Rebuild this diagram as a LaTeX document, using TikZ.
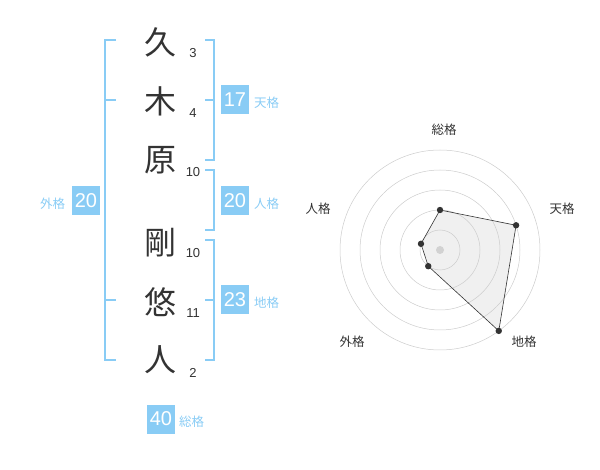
\documentclass[tikz,border=0pt]{standalone}
\usepackage{fontspec}
\setmainfont{Liberation Sans}
\newfontfamily\jp{Noto Sans CJK JP}
\usetikzlibrary{positioning}
\definecolor{kakublue}{RGB}{137,204,245}
\definecolor{ink}{RGB}{51,51,51}

\begin{document}
\begin{tikzpicture}[x=1pt,y=-1pt,
    kanji/.style={font=\jp\fontsize{32}{32}\selectfont, text=ink, inner sep=0pt},
    strokes/.style={font=\fontsize{13}{13}\selectfont, text=ink, inner sep=0pt},
    bracket/.style={draw=kakublue, line width=2pt},
    score/.style={fill=kakublue, text=white, font=\fontsize{20}{20}\selectfont,
        minimum width=28pt, minimum height=29pt, inner sep=0pt},
    kaku/.style={font=\jp\fontsize{12.5}{12.5}\selectfont, text=kakublue, inner sep=0pt, anchor=west},
    ring/.style={draw=gray!40, line width=0.5pt},
    axislabel/.style={font=\jp\fontsize{12.5}{12.5}\selectfont, text=ink, inner sep=0pt}]
    \useasboundingbox (0,0) rectangle (600,470);

    % name
    \node[kanji] (k1) at (160,42) {久};
    \node[kanji] (k2) at (160,101) {木};
    \node[kanji] (k3) at (160,160) {原};
    \node[kanji] (k4) at (160,243) {剛};
    \node[kanji] (k5) at (160,302) {悠};
    \node[kanji] (k6) at (160,360) {人};
    \node[strokes] (n1) at (193,53) {3};
    \node[strokes] (n2) at (193,113) {4};
    \node[strokes] (n3) at (193,172) {10};
    \node[strokes] (n4) at (193,253) {10};
    \node[strokes] (n5) at (193,313) {11};
    \node[strokes] (n6) at (193,373) {2};

    % brackets
    \draw[bracket] (116,40) -| (105,360) -- (116,360);
    \draw[bracket] (105,100) -- (116,100);
    \draw[bracket] (105,300) -- (116,300);
    \draw[bracket] (205,40) -| (214,160) -- (205,160);
    \draw[bracket] (205,100) -- (214,100);
    \draw[bracket] (205,170) -| (214,230) -- (205,230);
    \draw[bracket] (205,240) -| (214,360) -- (205,360);
    \draw[bracket] (205,300) -- (214,300);

    % scores
    \node[score] (ten) at (235,100) {17};
    \node[kaku] at (254,103) {天格};
    \node[score] (jin) at (235,201) {20};
    \node[kaku] at (254,204) {人格};
    \node[score] (chi) at (235,300) {23};
    \node[kaku] at (254,303) {地格};
    \node[score] (gai) at (86,201) {20};
    \node[kaku] at (40,204) {外格};
    \node[score] (sou) at (161,419) {40};
    \node[kaku] at (179,422) {総格};

    % radar
    \begin{scope}[shift={(440,250)}, y=1pt]
        \foreach \a/\v [count=\i] in {90/40, 18/80, -54/100, -126/20, 162/20}
            \coordinate (p\i) at (\a:\v);
        \fill[gray!12] (p1) -- (p2) -- (p3) -- (p4) -- (p5) -- cycle;
        \foreach \r in {20,40,...,100}
            \draw[ring] (0,0) circle (\r pt);
        \fill[gray!35] (0,0) circle (4pt);
        \draw[draw=ink, line width=0.6pt] (p1) -- (p2) -- (p3) -- (p4) -- (p5) -- cycle;
        \foreach \i in {1,...,5}
            \fill[ink] (p\i) circle (3.2pt);
        \node[axislabel] (ax1) at (4,120) {総格};
        \node[axislabel] (ax2) at (122,41) {天格};
        \node[axislabel] (ax3) at (84,-92) {地格};
        \node[axislabel] (ax4) at (-88,-92) {外格};
        \node[axislabel] (ax5) at (-122,41) {人格};
    \end{scope}
\end{tikzpicture}
\end{document}
